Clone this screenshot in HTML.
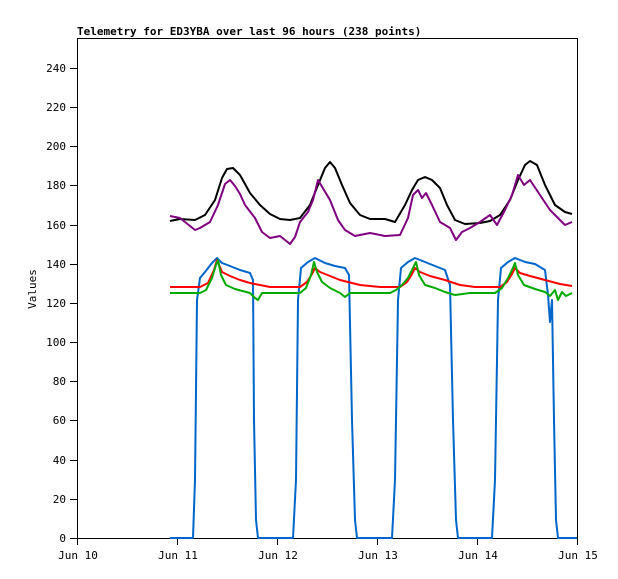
<!DOCTYPE html>
<html><head><meta charset="utf-8"><style>
html,body{margin:0;padding:0;background:#fff;}
svg{display:block;}
text{font-family:"DejaVu Sans Mono","Liberation Mono",monospace;font-size:11px;fill:#000;}
</style></head><body>
<svg width="618" height="579" xmlns="http://www.w3.org/2000/svg">
<rect x="0" y="0" width="618" height="579" fill="#fff"/>
<text x="77" y="35" style="font-weight:bold">Telemetry for ED3YBA over last 96 hours (238 points)</text>
<rect x="77.5" y="38.5" width="500" height="500" fill="none" stroke="#000" stroke-width="1"/>
<g stroke="#000" stroke-width="1">
<line x1="70" y1="538.5" x2="77" y2="538.5"/><line x1="70" y1="499.5" x2="77" y2="499.5"/>
<line x1="70" y1="460.5" x2="77" y2="460.5"/><line x1="70" y1="420.5" x2="77" y2="420.5"/>
<line x1="70" y1="381.5" x2="77" y2="381.5"/><line x1="70" y1="342.5" x2="77" y2="342.5"/>
<line x1="70" y1="303.5" x2="77" y2="303.5"/><line x1="70" y1="264.5" x2="77" y2="264.5"/>
<line x1="70" y1="225.5" x2="77" y2="225.5"/><line x1="70" y1="185.5" x2="77" y2="185.5"/>
<line x1="70" y1="146.5" x2="77" y2="146.5"/><line x1="70" y1="107.5" x2="77" y2="107.5"/>
<line x1="70" y1="68.5" x2="77" y2="68.5"/>
<line x1="77.5" y1="538" x2="77.5" y2="545"/><line x1="177.5" y1="538" x2="177.5" y2="545"/>
<line x1="277.5" y1="538" x2="277.5" y2="545"/><line x1="377.5" y1="538" x2="377.5" y2="545"/>
<line x1="477.5" y1="538" x2="477.5" y2="545"/><line x1="577.5" y1="538" x2="577.5" y2="545"/>
</g>
<g text-anchor="end">
<text x="66" y="542">0</text><text x="66" y="503">20</text><text x="66" y="464">40</text>
<text x="66" y="424">60</text><text x="66" y="385">80</text><text x="66" y="346">100</text>
<text x="66" y="307">120</text><text x="66" y="268">140</text><text x="66" y="229">160</text>
<text x="66" y="189">180</text><text x="66" y="150">200</text><text x="66" y="111">220</text>
<text x="66" y="72">240</text>
</g>
<g text-anchor="middle">
<text x="78" y="559">Jun 10</text><text x="178" y="559">Jun 11</text><text x="278" y="559">Jun 12</text>
<text x="378" y="559">Jun 13</text><text x="478" y="559">Jun 14</text><text x="578" y="559">Jun 15</text>
</g>
<text transform="translate(36,289) rotate(-90)" text-anchor="middle">Values</text>
<g fill="none" stroke-width="2" stroke-linejoin="round">
<polyline stroke="#0066cc" points="170,538 193,538 195,480 197,300 200,278 205,272 212,263 217,258 222,263 230,266 240,270 250,273 253,280 254,420 256,520 258,538 293,538 296,480 298,300 301,268 308,262 315,258 325,263 335,266 345,268 349,275 352,420 355,520 357,538 392,538 395,480 398,300 401,268 408,262 415,258 425,262 435,266 445,270 450,285 453,420 456,520 458,538 492,538 495,480 498,300 501,268 508,262 515,258 525,262 535,264 545,270 548,295 550,322 552,300 554,420 556,520 558,538 577,538"/>
<polyline stroke="#000" points="170,221 180,219 195,220 205,215 215,200 222,178 227,169 233,168 240,175 250,193 260,205 270,214 280,219 290,220 300,218 310,205 318,185 325,168 330,162 335,168 342,185 350,203 360,215 370,219 385,219 395,222 405,205 412,190 418,180 425,177 432,180 440,188 447,205 455,220 465,224 480,223 490,221 500,215 510,200 518,180 525,165 530,161 537,165 545,185 555,205 565,212 572,214"/>
<polyline stroke="#800080" points="170,216 175,217 180,218 185,222 190,226 195,230 200,228 210,222 218,205 225,184 230,180 235,186 240,194 245,205 255,218 262,232 270,238 280,236 290,244 295,237 300,222 308,212 313,200 318,180 324,190 330,200 338,220 345,230 355,236 370,233 385,236 400,235 408,218 413,195 418,190 422,198 426,193 432,205 440,222 450,228 456,240 462,232 470,228 480,222 490,215 497,225 505,210 512,195 518,175 524,185 530,180 540,195 550,210 560,220 565,225 572,222"/>
<polyline stroke="#ff0000" points="170,287 200,287 208,283 214,270 217,260 222,272 230,276 240,280 250,283 260,285 270,287 300,287 307,282 312,274 315,268 320,272 330,276 340,280 360,285 380,287 400,287 407,282 412,274 415,268 420,272 430,276 445,280 460,285 475,287 500,287 507,282 512,274 515,268 520,273 530,276 545,280 560,284 572,286"/>
<polyline stroke="#00aa00" points="170,293 200,293 206,290 212,278 216,265 218,260 221,275 226,285 235,289 250,293 255,298 258,300 262,293 275,293 300,293 306,288 311,275 314,262 317,272 322,282 330,288 340,293 345,297 350,293 360,293 390,293 396,290 402,285 408,278 413,268 416,262 419,275 425,285 435,288 445,292 455,295 470,293 495,293 502,288 508,278 512,270 515,263 518,275 524,285 535,289 545,292 550,296 555,290 558,300 562,292 566,296 572,293"/>
</g>
</svg>
</body></html>
